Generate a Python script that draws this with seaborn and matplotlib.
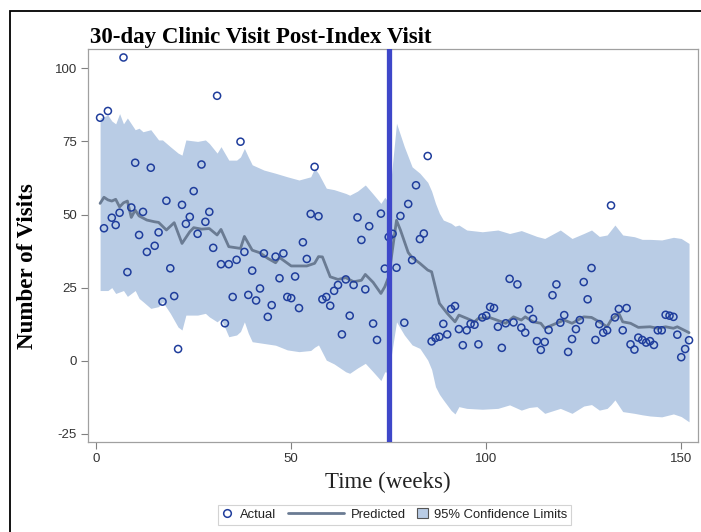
import numpy as np
import pandas as pd
import seaborn as sns
import matplotlib
matplotlib.use('Agg')
import matplotlib.pyplot as plt
from matplotlib.lines import Line2D
from matplotlib.patches import Patch, Rectangle
from matplotlib.legend_handler import HandlerLine2D, HandlerPatch

# actual weekly visits, weeks 1..152
actual_visits = [
    83.1, 45.3, 85.4, 48.9, 46.4, 50.6, 103.7, 30.3, 52.4, 67.7,
    43.0, 50.9, 37.2, 66.0, 39.3, 43.9, 20.2, 54.7, 31.6, 22.1,
    4.0, 53.3, 46.8, 49.2, 58.0, 43.4, 67.1, 47.5, 50.9, 38.6,
    90.6, 33.0, 12.8, 33.0, 21.8, 34.5, 74.9, 37.2, 22.5, 30.8,
    20.6, 24.7, 36.7, 15.0, 19.0, 35.6, 28.2, 36.7, 21.8, 21.4,
    28.8, 18.0, 40.5, 34.8, 50.2, 66.3, 49.4, 21.0, 21.8, 18.8,
    23.9, 25.9, 9.0, 27.8, 15.4, 25.9, 49.0, 41.3, 24.4, 46.0,
    12.7, 7.1, 50.3, 31.5, 42.3, 43.4, 31.8, 49.5, 13.0, 53.6,
    34.4, 60.0, 41.6, 43.5, 70.0, 6.6, 7.8, 8.2, 12.6, 9.0,
    17.7, 18.7, 10.8, 5.3, 10.4, 12.6, 12.3, 5.6, 14.8, 15.4,
    18.4, 18.0, 11.6, 4.4, 12.8, 28.0, 13.1, 26.1, 11.3, 9.6,
    17.6, 14.3, 6.7, 3.7, 6.4, 10.5, 22.4, 26.1, 13.0, 15.6,
    3.0, 7.4, 10.8, 13.9, 26.9, 21.0, 31.7, 7.1, 12.5, 9.6,
    10.4, 53.1, 14.8, 17.7, 10.4, 18.0, 5.6, 3.8, 7.9, 7.1,
    6.2, 6.7, 5.4, 10.4, 10.4, 15.7, 15.4, 15.0, 8.9, 1.2,
    4.0, 7.0,
]
actual_weeks = list(range(1, len(actual_visits) + 1))

# predicted line (knots)
pred_weeks = [1, 2, 3, 4, 5, 6, 7, 8, 9, 10, 11, 13, 15, 16, 18, 20, 22, 24, 25, 27,
              29, 31, 32, 34, 37, 38, 40, 42, 44, 46, 47, 50, 54, 56, 57, 58, 60, 62, 64, 66,
              68, 69, 71, 73, 74, 75, 77, 78, 80, 81, 83, 85, 86, 88, 90, 92, 93, 95, 97, 98,
              101, 104, 105, 107, 109, 110, 112, 114, 115, 118, 120, 122, 125, 127, 129, 131, 132, 134, 135, 137,
              139, 142, 144, 146, 148, 149, 152]
pred_visits = [53.8, 55.9, 55.0, 54.6, 55.2, 52.6, 54.0, 54.6, 49.0, 51.5, 49.5, 48.1, 47.5, 47.3, 44.7, 47.2, 40.1, 44.1, 45.5, 45.0,
               45.2, 43.0, 44.9, 39.0, 38.4, 42.5, 37.8, 36.9, 35.0, 33.5, 35.3, 32.4, 32.4, 33.3, 35.6, 35.5, 28.7, 27.8, 28.4, 27.0,
               27.5, 29.5, 26.8, 23.0, 25.3, 28.7, 48.0, 44.7, 37.0, 35.3, 33.3, 31.0, 30.4, 19.6, 16.2, 13.3, 15.6, 14.5, 13.3, 14.5,
               14.7, 13.3, 12.8, 15.0, 13.9, 15.0, 13.3, 12.8, 11.1, 12.8, 13.9, 12.8, 15.0, 14.8, 13.3, 11.6, 13.9, 16.2, 13.3, 12.8,
               11.4, 11.6, 11.1, 11.6, 11.1, 11.6, 9.6]

# 95% confidence limits (knots)
ci_weeks = [1, 3, 4, 5, 6, 7, 8, 10, 11, 12, 14, 16, 17, 19, 21, 22, 23, 26, 28, 29,
            31, 32, 34, 36, 37, 38, 39, 40, 43, 46, 49, 52, 55, 56, 57, 59, 61, 64, 65, 67,
            69, 71, 73, 74, 75, 77, 79, 81, 83, 85, 86, 87, 88, 89, 91, 92, 93, 95, 99, 103,
            106, 109, 111, 113, 115, 119, 122, 125, 127, 129, 131, 132, 133, 135, 138, 140, 142, 145, 148, 150,
            152]
ci_upper = [83.0, 84.0, 82.0, 81.0, 84.5, 81.0, 83.0, 79.0, 79.5, 78.3, 79.0, 75.5, 75.5, 73.2, 71.0, 70.3, 75.5, 75.0, 75.5, 74.3,
            71.0, 73.2, 68.6, 68.6, 69.7, 72.6, 69.7, 67.0, 65.2, 64.1, 62.9, 61.8, 62.9, 65.8, 64.0, 59.0, 58.5, 57.2, 56.6, 58.0,
            60.1, 57.0, 53.8, 55.9, 54.0, 81.2, 73.2, 66.3, 64.1, 61.0, 58.0, 53.8, 50.4, 48.1, 47.0, 46.0, 46.4, 44.7, 44.1, 44.7,
            43.5, 44.5, 43.5, 42.5, 41.8, 44.7, 41.8, 43.5, 44.7, 42.5, 43.0, 44.7, 46.4, 43.0, 42.4, 41.5, 41.5, 41.3, 42.2, 41.8,
            40.1]
ci_lower = [24.0, 24.0, 25.0, 23.0, 23.5, 24.0, 22.0, 24.0, 21.3, 20.2, 17.9, 18.5, 20.2, 16.2, 11.5, 10.5, 15.6, 15.6, 16.2, 15.0,
            13.3, 14.4, 8.2, 8.8, 10.0, 13.3, 9.4, 6.5, 5.9, 5.3, 3.7, 3.1, 3.5, 4.6, 5.4, 0.2, -1.1, -3.8, -4.3, -2.5,
            -0.9, -3.8, -6.8, -3.8, -4.0, 13.3, 8.8, 5.4, 4.2, 0.2, -3.0, -8.9, -11.5, -13.4, -17.0, -18.2, -15.7, -16.3, -16.6, -16.3,
            -15.1, -16.9, -16.0, -15.7, -18.0, -16.3, -18.0, -15.5, -15.0, -16.9, -16.3, -15.0, -13.4, -17.4, -18.0, -18.5, -18.9, -19.2, -18.2, -19.1,
            -20.9]

index_week = 75

actual_df = pd.DataFrame({'week': actual_weeks, 'visits': actual_visits})
pred_df = pd.DataFrame({'week': pred_weeks, 'visits': pred_visits})
ci_df = pd.DataFrame({'week': ci_weeks, 'upper': ci_upper, 'lower': ci_lower})

band_color = '#b9cce5'
pred_color = '#6a7b93'
point_color = '#1f3d9c'
vline_color = '#3e47c9'

sns.set_theme(style='white')
plt.rcParams['font.family'] = ['Liberation Sans', 'DejaVu Sans']
plt.rcParams['axes.unicode_minus'] = False

fig = plt.figure(figsize=(7.01, 5.32), dpi=100)
ax = fig.add_axes([88 / 701, 1 - 442 / 532, 610 / 701, 393 / 532])

ax.fill_between(ci_df['week'], ci_df['lower'], ci_df['upper'], color=band_color, lw=0, zorder=1)
sns.lineplot(data=pred_df, x='week', y='visits', ax=ax, color=pred_color, lw=2, zorder=2)
sns.scatterplot(data=actual_df, x='week', y='visits', ax=ax, marker='o', s=26,
                facecolor='none', edgecolor=point_color, linewidth=1.1, zorder=3)
ax.axvline(index_week, color=vline_color, lw=3.8, zorder=4)

ax.set_xlim(-2.1, 154.3)
ax.set_ylim(-27.8, 106.6)
ax.set_xticks([0, 50, 100, 150])
ax.set_yticks([-25, 0, 25, 50, 75, 100])
ax.tick_params(axis='both', which='both', direction='out', length=5, width=0.8,
               color='#808080', labelcolor='#333333', labelsize=9.5, pad=3,
               bottom=True, left=True)
for sp in ax.spines.values():
    sp.set_color('#a0a0a0')
    sp.set_linewidth(0.9)
ax.set_xlabel('')
ax.set_ylabel('')

serif = ['Liberation Serif', 'DejaVu Serif']
fig.text(90 / 701, 1 - 43.3 / 532, '30-day Clinic Visit Post-Index Visit', family=serif,
         fontsize=16.5, fontweight='bold', ha='left', va='baseline', color='black')
fig.text(28 / 701, 1 - 266 / 532, 'Number of Visits', family=serif, fontsize=16.6,
         fontweight='bold', rotation=90, ha='center', va='center', color='black')
fig.text(388 / 701, 1 - 488 / 532, 'Time (weeks)', family=serif, fontsize=16.5,
         ha='center', va='baseline', color='#222222')


class SizedLine(HandlerLine2D):
    def __init__(self, w, **kw):
        super().__init__(**kw)
        self.w = w

    def legend_artist(self, legend, orig_handle, fontsize, handlebox):
        handlebox.width = self.w * fontsize
        return super().legend_artist(legend, orig_handle, fontsize, handlebox)


class SizedPatch(HandlerPatch):
    def __init__(self, w, **kw):
        super().__init__(**kw)
        self.w = w

    def legend_artist(self, legend, orig_handle, fontsize, handlebox):
        handlebox.width = self.w * fontsize
        return super().legend_artist(legend, orig_handle, fontsize, handlebox)


h_actual = Line2D([], [], ls='none', marker='o', ms=5.5, mfc='none', mec=point_color, mew=1.1)
h_pred = Line2D([], [], color=pred_color, lw=2)
h_ci = Patch(facecolor=band_color, edgecolor='#555555', lw=0.8)
leg = fig.legend([h_actual, h_pred, h_ci], ['Actual', 'Predicted', '95% Confidence Limits'],
                 loc='center', bbox_to_anchor=(394.5 / 701, 1 - 514.7 / 532), ncol=3,
                 fontsize=9.4, frameon=True, fancybox=False, borderpad=0.3,
                 handletextpad=0.5, columnspacing=0.9, handleheight=0.8,
                 handler_map={h_actual: SizedLine(0.9, numpoints=1),
                              h_pred: SizedLine(4.3),
                              h_ci: SizedPatch(0.8)})
leg.get_frame().set_edgecolor('#c8c8c8')
leg.get_frame().set_linewidth(0.8)
for t in leg.get_texts():
    t.set_color('#222222')

# outer border of the exported graph
fig.add_artist(Rectangle((10 / 701, -0.1), 1.2, 1 - 11 / 532 + 0.1, transform=fig.transFigure,
                         fill=False, ec='black', lw=1.3))

fig.savefig('out.png', dpi=100)
